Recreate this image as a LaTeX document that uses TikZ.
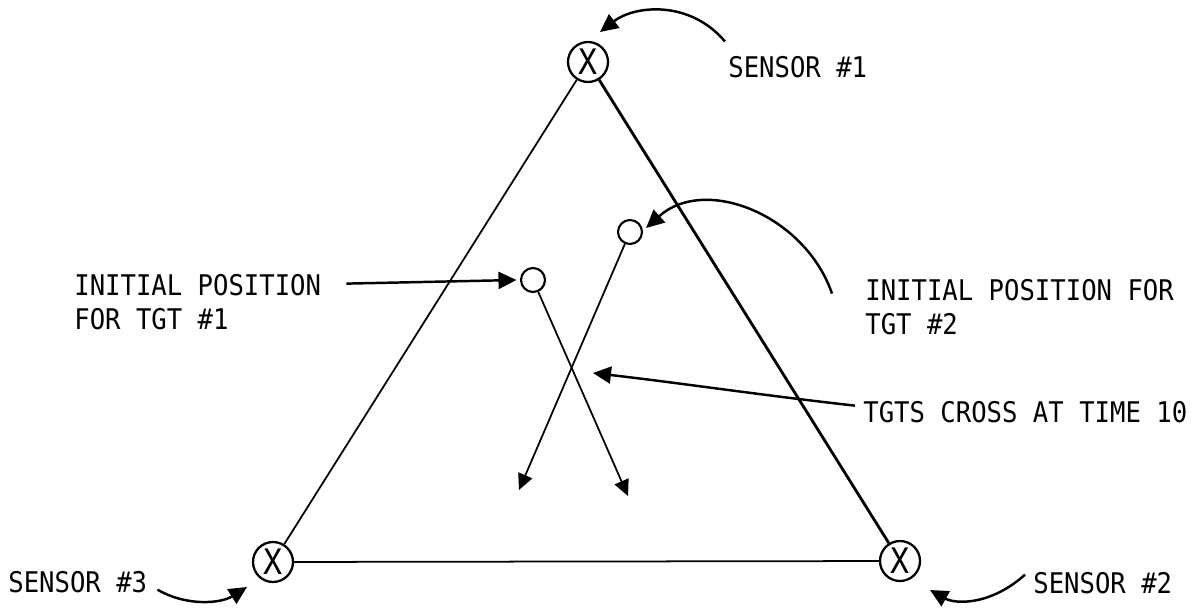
\documentclass[tikz,border=0pt]{standalone}
\usepackage{fontspec}
\newfontfamily\plotfont[FakeStretch=0.9]{DejaVu Sans Mono}
\usetikzlibrary{arrows.meta}

\begin{document}
\begin{tikzpicture}[x=0.02cm, y=-0.02cm,
  sensor/.style={draw, circle, line width=1.3pt, minimum size=0.8cm, inner sep=0pt,
    font=\plotfont\fontsize{20}{20}\selectfont},
  target/.style={draw, circle, line width=1.2pt, minimum size=0.48cm, inner sep=0pt},
  lbl/.style={font=\plotfont\fontsize{16.2}{19.3}\selectfont, align=left, inner sep=0pt, anchor=base west},
  pointer/.style={-{Triangle[length=0.36cm, width=0.34cm]}, line width=1.4pt},
  track/.style={-{Triangle[length=0.32cm, width=0.3cm]}, line width=1pt}]
  \useasboundingbox (0,0) rectangle (1200,615);
  % Sensors
  \node[sensor] (s1) at (588,62) {X};
  \node[sensor] (s2) at (900,561) {X};
  \node[sensor] (s3) at (273,562) {X};
  % Triangle
  \draw[line width=1pt] (s1) -- (s3);
  \draw[line width=1.6pt] (s1) -- (s2);
  \draw[line width=1pt] (s3) -- (s2);
  % Targets and their tracks
  \node[target] (t1) at (533,280) {};
  \node[target] (t2) at (630,232) {};
  \coordinate (t1end) at (628,496);
  \coordinate (t2end) at (519,490);
  \draw[track] (t1) -- (t1end);
  \draw[track] (t2) -- (t2end);
  % Labels
  \node[lbl] (s1lbl) at (728,78) {SENSOR \#1};
  \node[lbl] (s2lbl) at (1033,593) {SENSOR \#2};
  \node[lbl] (s3lbl) at (8,592) {SENSOR \#3};
  \node[lbl] (t1lbl) at (74,329) {INITIAL POSITION\\FOR TGT \#1};
  \node[lbl] (t2lbl) at (865,334) {INITIAL POSITION FOR\\TGT \#2};
  \node[lbl] (xlbl) at (863,422) {TGTS CROSS AT TIME 10};
  % Pointers
  \coordinate (s1tip) at (600,32);
  \coordinate (s2tip) at (930,590);
  \coordinate (s3tip) at (247,587);
  \coordinate (xtip) at (593,373);
  \draw[pointer] ([shift={(-3,-15)}]s1lbl.north west) .. controls (690,0) and (635,5) .. (s1tip);
  \draw[pointer] ([shift={(-8,-8)}]s2lbl.west) .. controls (990,606) and (955,604) .. (s2tip);
  \draw[pointer] ([shift={(10,8)}]s3lbl.east) .. controls (185,606) and (220,604) .. (s3tip);
  \draw[pointer] ([shift={(25,10)}]t1lbl.north east) -- ([xshift=-2]t1.west);
  \draw[pointer] ([shift={(-33,15)}]t2lbl.north west) .. controls (805,215) and (705,175) .. ([shift={(3,-4)}]t2.east);
  \draw[pointer] ([shift={(-8,-6)}]xlbl.west) .. controls (760,395) and (680,383) .. (xtip);
\end{tikzpicture}
\end{document}
